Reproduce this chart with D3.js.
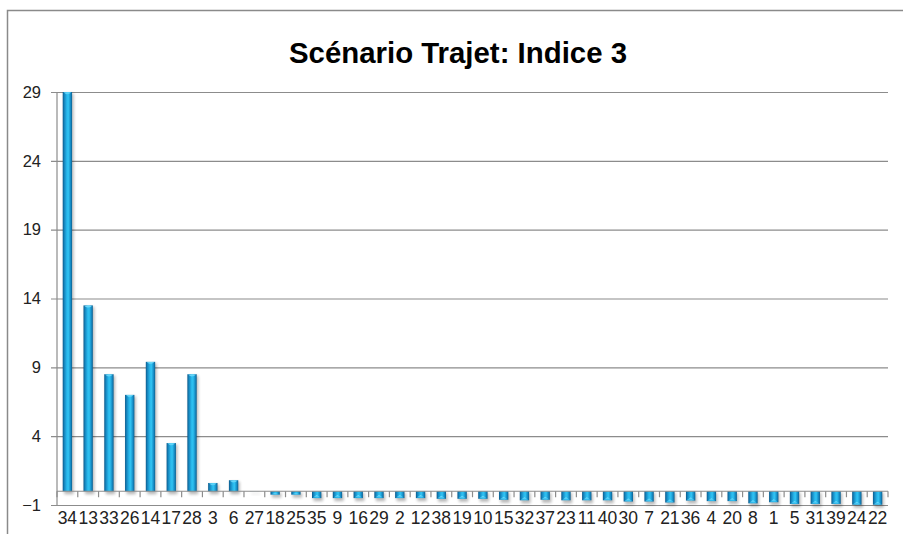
<!DOCTYPE html>
<html>
<head>
<meta charset="utf-8">
<script src="https://cdn.jsdelivr.net/npm/d3@7"></script>
<style>
  html, body { margin: 0; padding: 0; background: #fff; }
  svg { display: block; }
</style>
</head>
<body>
<svg id="chart" width="903" height="534"></svg>
<script>
// Trip scenario, index 3 — one value per trip id
const titleText = "Scénario Trajet: Indice 3";
const categories = ["34","13","33","26","14","17","28","3","6","27","18","25","35","9","16","29","2","12","38","19",
                    "10","15","32","37","23","11","40","30","7","21","36","4","20","8","1","5","31","39","24","22"];
const values = [29, 13.5, 8.5, 7, 9.4, 3.5, 8.5, 0.6, 0.8, -0.03, -0.25, -0.25, -0.5, -0.5, -0.5, -0.5, -0.5, -0.5, -0.55, -0.55,
                -0.55, -0.62, -0.66, -0.62, -0.66, -0.66, -0.66, -0.75, -0.75, -0.82, -0.68, -0.72, -0.72, -0.88, -0.8, -0.92, -0.92, -0.92, -0.98, -0.98];
const yTicks = [-1, 4, 9, 14, 19, 24, 29];

const svg = d3.select("#chart");
const W = 903, H = 534;
const plot = { left: 57, right: 888, top: 92, bottom: 505 };

// chart frame
svg.append("rect")
  .attr("x", 7.5).attr("y", 10.5)
  .attr("width", W + 10).attr("height", H + 10)
  .attr("fill", "#fff").attr("stroke", "#8a8a8a").attr("stroke-width", 1.5);

// title
svg.append("text")
  .attr("x", 458).attr("y", 63)
  .attr("text-anchor", "middle")
  .attr("font-family", "'Liberation Sans', Arial, sans-serif")
  .attr("font-weight", "bold")
  .attr("font-size", 30)
  .attr("textLength", 338).attr("lengthAdjust", "spacingAndGlyphs")
  .attr("fill", "#000")
  .text(titleText);

const x = d3.scaleBand()
  .domain(categories)
  .range([plot.left, plot.right])
  .paddingInner(0.55)
  .paddingOuter(0.275);

const y = d3.scaleLinear()
  .domain([-1, 29])
  .range([plot.bottom, plot.top]);

// defs: cylinder-like gradient and soft shadow
const defs = svg.append("defs");
const grad = defs.append("linearGradient").attr("id", "barGrad")
  .attr("x1", "0").attr("x2", "1").attr("y1", "0").attr("y2", "0");
[["0%", "#0b5a8c"], ["18%", "#1687bf"], ["45%", "#29b9ed"], ["60%", "#30c2f1"], ["82%", "#1790c9"], ["100%", "#0c5f90"]]
  .forEach(([o, c]) => grad.append("stop").attr("offset", o).attr("stop-color", c));
const capGrad = defs.append("linearGradient").attr("id", "capGrad")
  .attr("x1", "0").attr("x2", "0").attr("y1", "0").attr("y2", "1");
capGrad.append("stop").attr("offset", "0%").attr("stop-color", "#7fe3ff");
capGrad.append("stop").attr("offset", "100%").attr("stop-color", "#2ab8ec");
const shadow = defs.append("filter").attr("id", "shadow")
  .attr("x", "-50%").attr("y", "-50%").attr("width", "200%").attr("height", "200%");
shadow.append("feGaussianBlur").attr("stdDeviation", 1.6);

// y axis with gridlines
const yAxis = d3.axisLeft(y)
  .tickValues(yTicks)
  .tickSize(-(plot.right - plot.left))
  .tickPadding(16)
  .tickFormat(d3.format("d"));
const gy = svg.append("g")
  .attr("transform", `translate(${plot.left},0)`)
  .call(yAxis);
gy.select(".domain").remove();
gy.selectAll(".tick line").attr("stroke", "#8c8c8c").attr("stroke-width", 1.2).attr("x1", -6);
gy.selectAll(".tick text")
  .attr("x", -16)
  .attr("font-family", "'Liberation Sans', Arial, sans-serif")
  .attr("font-size", 16.5)
  .attr("fill", "#222");
// vertical axis line
svg.append("line")
  .attr("x1", plot.left).attr("x2", plot.left)
  .attr("y1", y(29)).attr("y2", y(-1))
  .attr("stroke", "#8c8c8c").attr("stroke-width", 1.2);

const data = categories.map((c, i) => ({ c, v: values[i] }));
const bw = x.bandwidth();

// bar shadows
svg.append("g").selectAll("rect")
  .data(data)
  .join("rect")
  .attr("x", d => x(d.c) + 1.5)
  .attr("y", d => Math.min(y(d.v), y(0)) + 1.5)
  .attr("width", bw)
  .attr("height", d => Math.abs(y(d.v) - y(0)) + 1.5)
  .attr("fill", "#000")
  .attr("opacity", d => Math.abs(d.v) < 0.1 ? 0.08 : 0.28)
  .attr("filter", "url(#shadow)");

// bars
const bars = svg.append("g");
bars.selectAll("rect")
  .data(data)
  .join("rect")
  .attr("x", d => x(d.c))
  .attr("y", d => Math.min(y(d.v), y(0)))
  .attr("width", bw)
  .attr("height", d => Math.max(0.5, Math.abs(y(d.v) - y(0))))
  .attr("fill", "url(#barGrad)")
  .attr("opacity", d => Math.abs(d.v) < 0.1 ? 0.15 : 1);

// bevelled caps at the value end of each bar
bars.selectAll("path.cap")
  .data(data.filter(d => Math.abs(d.v) >= 0.1))
  .join("path")
  .attr("class", "cap")
  .attr("d", d => {
    const x0 = x(d.c), yv = y(d.v), s = d.v >= 0 ? 1 : -1;
    const h = Math.min(3, Math.abs(y(d.v) - y(0)) / 2);
    return `M${x0 + 1},${yv + s * 0.5} L${x0 + bw - 1},${yv + s * 0.5} L${x0 + bw / 2},${yv + s * h} Z`;
  })
  .attr("fill", "url(#capGrad)");

// category axis at zero with tick marks between bars
const step = x.step();
const xTickPos = d3.range(categories.length + 1).map(i => plot.left + i * step);
svg.append("line")
  .attr("x1", plot.left).attr("x2", plot.right)
  .attr("y1", y(0)).attr("y2", y(0))
  .attr("stroke", "#8c8c8c").attr("stroke-width", 1.2);
svg.append("g").selectAll("line")
  .data(xTickPos)
  .join("line")
  .attr("x1", d => d).attr("x2", d => d)
  .attr("y1", y(0)).attr("y2", y(0) + 6)
  .attr("stroke", "#8c8c8c").attr("stroke-width", 1.2);

// category labels below the plot area
svg.append("g").selectAll("text")
  .data(categories)
  .join("text")
  .attr("x", d => x(d) + bw / 2)
  .attr("y", 524)
  .attr("text-anchor", "middle")
  .attr("font-family", "'Liberation Sans', Arial, sans-serif")
  .attr("font-size", 17.5)
  .attr("fill", "#222")
  .text(d => d);
</script>
</body>
</html>
